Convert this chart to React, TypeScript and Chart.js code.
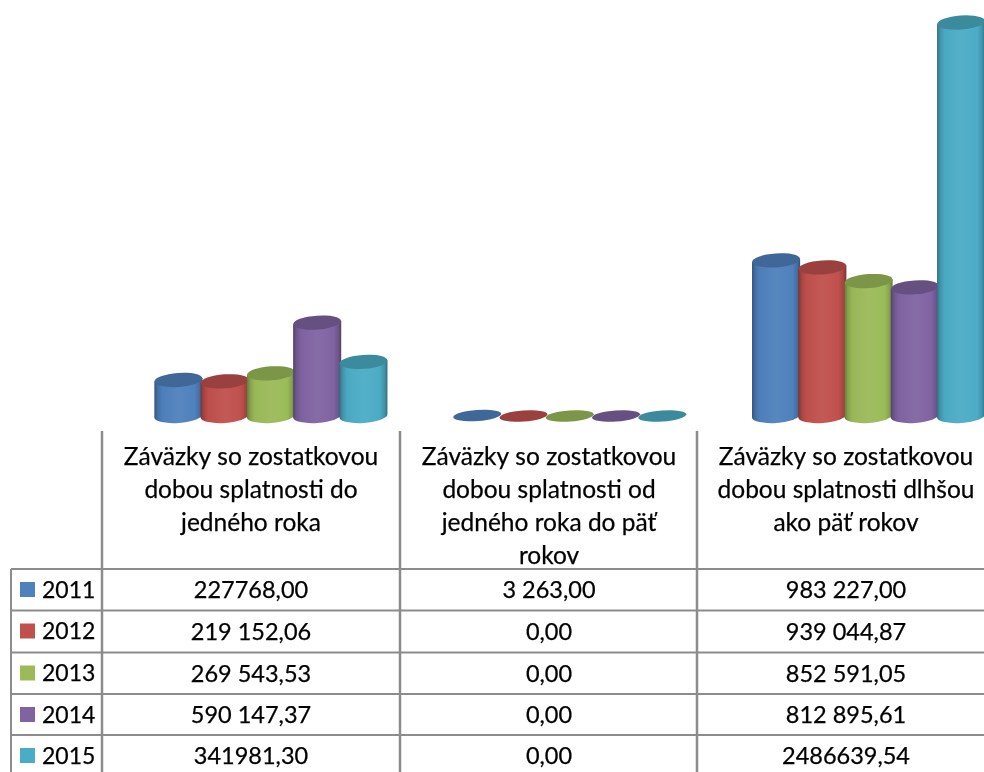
import React, { useEffect, useRef } from "react";
import { Chart, registerables } from "chart.js";

Chart.register(...registerables);

const categories = [
  ["Záväzky so zostatkovou", "dobou splatnosti do", "jedného roka"],
  ["Záväzky so zostatkovou", "dobou splatnosti od", "jedného roka do päť", "rokov"],
  ["Záväzky so zostatkovou", "dobou splatnosti dlhšou", "ako päť rokov"],
];
const years = ["2011", "2012", "2013", "2014", "2015"];
const colors = ["#4F81BD", "#C0504D", "#9BBB59", "#8064A2", "#4BACC6"];

const values2011 = [227768.0, 3263.0, 983227.0];
const values2012 = [219152.06, 0, 939044.87];
const values2013 = [269543.53, 0, 852591.05];
const values2014 = [590147.37, 0, 812895.61];
const values2015 = [341981.3, 0, 2486639.54];

const labels2011 = ["227768,00", "3 263,00", "983 227,00"];
const labels2012 = ["219 152,06", "0,00", "939 044,87"];
const labels2013 = ["269 543,53", "0,00", "852 591,05"];
const labels2014 = ["590 147,37", "0,00", "812 895,61"];
const labels2015 = ["341981,30", "0,00", "2486639,54"];

const seriesValues = [values2011, values2012, values2013, values2014, values2015];
const seriesLabels = [labels2011, labels2012, labels2013, labels2014, labels2015];

const shade = (hex: string, f: number) => {
  const n = parseInt(hex.slice(1), 16);
  const c = [(n >> 16) & 255, (n >> 8) & 255, n & 255].map((v) =>
    Math.round(f <= 1 ? v * f : v + (255 - v) * (f - 1))
  );
  return `rgb(${c[0]},${c[1]},${c[2]})`;
};

const TILT = -4 * (Math.PI / 180);

const cylinderPlugin = {
  id: "cylinders",
  beforeDatasetsDraw(chart: any) {
    const { ctx } = chart;
    chart.data.datasets.forEach((ds: any, di: number) => {
      chart.getDatasetMeta(di).data.forEach((bar: any) => {
        const { x, y, base, width } = bar.getProps(["x", "y", "base", "width"], true);
        const color = ds.backgroundColor;
        const rx = width / 2;
        const tall = base - y > 2;
        const ry = tall ? 7 : 5.5;
        const dy = Math.sin(TILT) * rx;
        ctx.save();
        const grad = ctx.createLinearGradient(x - rx, 0, x + rx, 0);
        grad.addColorStop(0, shade(color, 0.66));
        grad.addColorStop(0.07, shade(color, 0.86));
        grad.addColorStop(0.16, shade(color, 0.98));
        grad.addColorStop(0.5, shade(color, 1.05));
        grad.addColorStop(0.84, shade(color, 1.0));
        grad.addColorStop(0.94, shade(color, 0.85));
        grad.addColorStop(1, shade(color, 0.64));
        ctx.fillStyle = grad;
        ctx.beginPath();
        ctx.moveTo(x - rx, y - dy);
        ctx.lineTo(x - rx, base - dy);
        ctx.ellipse(x, base, rx, ry, TILT, Math.PI, 0, true);
        ctx.lineTo(x + rx, y + dy);
        ctx.closePath();
        if (tall) ctx.fill();
        ctx.fillStyle = shade(color, 0.8);
        ctx.beginPath();
        ctx.ellipse(x, y, rx, ry, TILT, 0, Math.PI * 2);
        ctx.fill();
        ctx.restore();
      });
    });
    return false;
  },
};

const colX = [102, 400, 697];
const rowY = [569, 610.5, 652.5, 694, 735];
const centers = [251, 549, 846];

const tablePlugin = {
  id: "dataTable",
  afterDraw(chart: any) {
    const { ctx } = chart;
    ctx.save();
    ctx.strokeStyle = "#8C8C8C";
    ctx.lineWidth = 2;
    ctx.beginPath();
    ctx.moveTo(11, rowY[0]);
    ctx.lineTo(11, 772);
    rowY.forEach((y) => {
      ctx.moveTo(11, y);
      ctx.lineTo(984, y);
    });
    ctx.stroke();
    ctx.lineWidth = 2.5;
    ctx.beginPath();
    colX.forEach((x) => {
      ctx.moveTo(x, 431);
      ctx.lineTo(x, 772);
    });
    ctx.stroke();

    ctx.fillStyle = "#000";
    ctx.strokeStyle = "#000";
    ctx.lineWidth = 0.25;
    ctx.textBaseline = "middle";
    ctx.textAlign = "center";
    ctx.font = "24.5px Lato";
    categories.forEach((lines, c) => {
      lines.forEach((line, l) => {
        const ly = 457 + l * 33;
        ctx.fillText(line, centers[c], ly);
        ctx.strokeText(line, centers[c], ly);
      });
    });
    years.forEach((year, r) => {
      const y = rowY[r] + 21.5;
      ctx.fillStyle = colors[r];
      ctx.fillRect(20, rowY[r] + 13, 15, 15);
      ctx.fillStyle = "#000";
      ctx.font = "23px Lato";
      ctx.textAlign = "left";
      ctx.fillText(year, 42, y);
      ctx.strokeText(year, 42, y);
      ctx.font = "23.5px Lato";
      ctx.textAlign = "center";
      seriesLabels[r].forEach((t, c) => {
        ctx.fillText(t, centers[c], y);
        ctx.strokeText(t, centers[c], y);
      });
    });
    ctx.restore();
  },
};

export default function App() {
  const ref = useRef<HTMLCanvasElement>(null);
  useEffect(() => {
    document.body.style.margin = "0";
    const chart = new Chart(ref.current!, {
      type: "bar",
      data: {
        labels: categories.map((c) => c.join(" ")),
        datasets: years.map((year, i) => ({
          label: year,
          data: seriesValues[i],
          backgroundColor: colors[i],
          categoryPercentage: 0.774,
          barPercentage: 1.04,
        })),
      },
      options: {
        responsive: false,
        animation: false,
        layout: { padding: { left: 121.5, right: 2, top: 20.4, bottom: 356 } },
        plugins: { legend: { display: false }, title: { display: false }, tooltip: { enabled: false } },
        scales: {
          x: { display: false },
          y: { display: false, min: 0, max: 2500000 },
        },
      },
      plugins: [cylinderPlugin, tablePlugin],
    });
    return () => chart.destroy();
  }, []);
  return (
    <div style={{ width: 984, height: 772, overflow: "hidden", position: "relative", background: "#fff" }}>
      <canvas ref={ref} width={1020} height={772} style={{ display: "block" }} />
    </div>
  );
}
